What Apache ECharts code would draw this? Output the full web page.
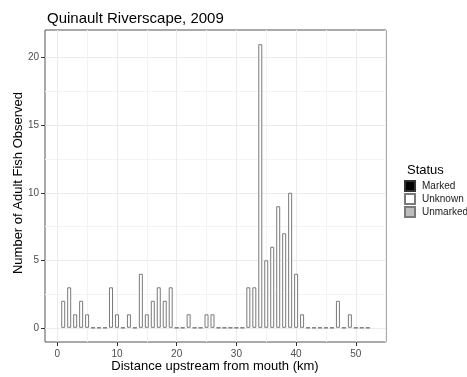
<!DOCTYPE html>
<html>
<head>
<meta charset="utf-8">
<script src="https://cdn.jsdelivr.net/npm/echarts@6/dist/echarts.min.js"></script>
<style>
html,body{margin:0;padding:0;background:#fff;}
#chart{width:467px;height:377px;}
</style>
</head>
<body>
<div id="chart"></div>
<script>
// Data
const distanceKm = [1,2,3,4,5,6,7,8,9,10,11,12,13,14,15,16,17,18,19,20,21,22,23,24,25,26,27,28,29,30,31,32,33,34,35,36,37,38,39,40,41,42,43,44,45,46,47,48,49,50,51,52];
const unknownCounts = [2,3,1,2,1,0,0,0,3,1,0,1,0,4,1,2,3,2,3,0,0,1,0,0,1,1,0,0,0,0,0,3,3,21,5,6,9,7,10,4,1,0,0,0,0,0,2,0,1,0,0,0];
const markedCounts = [];
const unmarkedCounts = [];
const statusLevels = ['Marked', 'Unknown', 'Unmarked'];
const xTicks = [0,10,20,30,40,50];
const xMinor = [5,15,25,35,45,55];
const yTicks = [0,5,10,15,20];
const yMinor = [2.5,7.5,12.5,17.5];

const FONT = '"Liberation Sans", Arial, sans-serif';
const pairs = (xs, ys) => ys.map((v, i) => [xs[i], v]);

const chart = echarts.init(document.getElementById('chart'), null, {renderer: 'canvas'});
const xMin = -2.05, xMax = 55.05, yMin = -1.05, yMax = 22.05;

const barStyle = (fill, border) => ({color: fill, borderColor: border, borderWidth: 1});

chart.setOption({
  animation: false,
  backgroundColor: '#ffffff',
  textStyle: {fontFamily: FONT},
  title: [
    {text: 'Quinault Riverscape, 2009', left: 42, top: 6,
     textStyle: {fontFamily: FONT, fontSize: 15, fontWeight: 'normal', color: '#000'}},
    {text: 'Status', left: 402, top: 159,
     textStyle: {fontFamily: FONT, fontSize: 13, fontWeight: 'normal', color: '#000'}}
  ],
  grid: {left: 45, right: 81, top: 30, bottom: 35, show: true, borderColor: '#555', borderWidth: 1, backgroundColor: 'transparent'},
  legend: {
    data: statusLevels,
    orient: 'vertical', left: 404, top: 180,
    itemWidth: 10, itemHeight: 10, itemGap: 1, padding: 0,
    icon: 'rect',
    textStyle: {fontFamily: FONT, fontSize: 10, color: '#1a1a1a', padding: [0,0,0,2]},
    selectedMode: false
  },
  xAxis: [
    {type: 'value', min: xMin, max: xMax, position: 'bottom',
     axisLine: {show: false, onZero: false},
     axisTick: {show: true, length: 4, lineStyle: {color: '#333'}, customValues: xTicks},
     axisLabel: {customValues: xTicks, color: '#4d4d4d', fontSize: 10, margin: 7, fontFamily: FONT},
     splitLine: {show: true, lineStyle: {color: '#ebebeb', width: 1}}},
    {type: 'value', min: xMin, max: xMax, position: 'bottom',
     axisLine: {show: false, onZero: false},
     axisTick: {show: false, customValues: xMinor},
     axisLabel: {show: false, customValues: xMinor},
     splitLine: {show: true, lineStyle: {color: '#f3f3f3', width: 1}}}
  ],
  yAxis: [
    {type: 'value', min: yMin, max: yMax, position: 'left',
     axisLine: {show: false, onZero: false},
     axisTick: {show: true, length: 4, lineStyle: {color: '#333'}, customValues: yTicks},
     axisLabel: {customValues: yTicks, color: '#4d4d4d', fontSize: 10, margin: 6, fontFamily: FONT},
     splitLine: {show: true, lineStyle: {color: '#ebebeb', width: 1}}},
    {type: 'value', min: yMin, max: yMax, position: 'left',
     axisLine: {show: false, onZero: false},
     axisTick: {show: false, customValues: yMinor},
     axisLabel: {show: false, customValues: yMinor},
     splitLine: {show: true, lineStyle: {color: '#f3f3f3', width: 1}}}
  ],
  graphic: [
    {type: 'text', x: 215, y: 366, style: {text: 'Distance upstream from mouth (km)', font: '13px ' + FONT, fill: '#000', textAlign: 'center', textVerticalAlign: 'middle'}},
    {type: 'text', x: 18, y: 183, rotation: Math.PI / 2, style: {text: 'Number of Adult Fish Observed', font: '13px ' + FONT, fill: '#000', textAlign: 'center', textVerticalAlign: 'middle'}}
  ],
  series: [
    {name: 'Marked', type: 'bar', stack: 'status', xAxisIndex: 0, yAxisIndex: 0, barWidth: 4,
     data: pairs(distanceKm, markedCounts), itemStyle: barStyle('#000000', '#333333')},
    {name: 'Unknown', type: 'bar', stack: 'status', xAxisIndex: 0, yAxisIndex: 0, barWidth: 4,
     data: pairs(distanceKm, unknownCounts), itemStyle: barStyle('#ffffff', '#7a7a7a')},
    {name: 'Unmarked', type: 'bar', stack: 'status', xAxisIndex: 0, yAxisIndex: 0, barWidth: 4,
     data: pairs(distanceKm, unmarkedCounts), itemStyle: barStyle('#bebebe', '#7a7a7a')}
  ]
});
</script>
</body>
</html>
